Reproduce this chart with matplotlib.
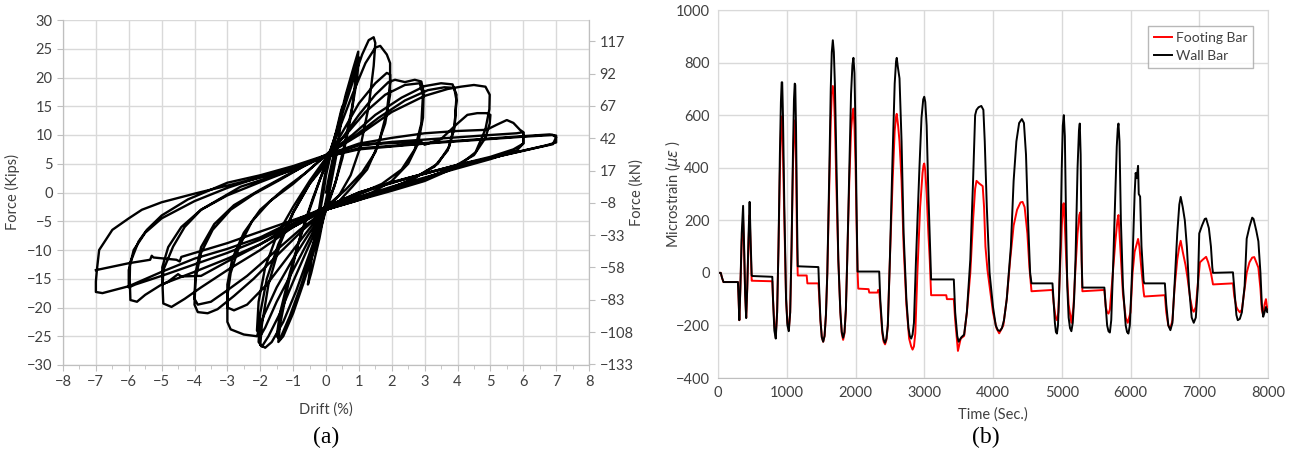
import matplotlib
matplotlib.use('Agg')
import matplotlib.pyplot as plt
import numpy as np

plt.rcParams['font.family'] = ['Lato', 'DejaVu Sans']

# (a) hysteresis: drift (%) and force (kips), one continuous path, cycle by cycle
drift = [0,
    0.1, 0.25, 0.2, 0.05, -0.1, -0.25, -0.2, -0.05, 0,
    0.2, 0.45, 0.5, 0.45, 0.3, 0.1, 0, -0.2, -0.45, -0.55, -0.45, -0.3, -0.1, 0,
    0.3, 0.6, 0.85, 0.98, 0.95, 0.8, 0.55, 0.3, 0.1, 0, -0.3, -0.7, -1.0, -1.3, -1.45, -1.4, -1.15, -0.85, -0.5, -0.2, 0,
    0.35, 0.65, 0.9, 1.0, 0.95, 0.75, 0.5, 0.25, 0, -0.35, -0.75, -1.1, -1.4, -1.5, -1.4, -1.1, -0.75, -0.4, 0,
    0.4, 0.8, 1.1, 1.3, 1.45, 1.5, 1.45, 1.3, 1.05, 0.75, 0.4, 0, -0.4, -0.9, -1.3, -1.65, -1.85, -2.0, -1.95, -1.75, -1.4, -1.0, -0.5, 0,
    0.4, 0.8, 1.2, 1.5, 1.65, 1.85, 1.95, 1.95, 1.85, 1.6, 1.25, 0.8, 0.4, 0, -0.5, -1.0, -1.4, -1.75, -1.95, -2.05, -2.0, -1.8, -1.45, -1.0, -0.5, 0,
    0.5, 1.0, 1.5, 1.85, 1.95, 1.95, 1.8, 1.5, 1.1, 0.6, 0, -0.5, -1.0, -1.5, -1.85, -2.0, -2.1, -2.05, -1.85, -1.5, -1.0, -0.5, 0,
    0.5, 1.0, 1.5, 1.9, 2.1, 2.4, 2.7, 2.9, 2.97, 2.95, 2.8, 2.5, 2.0, 1.4, 0.7, 0, -0.5, -1.0, -1.5, -1.9, -2.1, -2.5, -2.9, -3.0, -3.0, -2.9, -2.65, -2.25, -1.7, -1.0, -0.5, 0,
    0.6, 1.2, 1.8, 2.4, 2.85, 2.95, 2.9, 2.7, 2.3, 1.7, 0.9, 0, -0.6, -1.2, -1.8, -2.4, -2.8, -3.0, -3.0, -2.85, -2.5, -2.0, -1.3, -0.6, 0,
    0.8, 1.5, 2.3, 3.0, 3.5, 3.85, 3.97, 3.92, 3.75, 3.4, 2.7, 1.8, 0.9, 0, -0.7, -1.5, -2.2, -2.8, -3.3, -3.6, -3.9, -4.0, -3.97, -3.8, -3.45, -2.9, -2.2, -1.4, -0.7, 0,
    0.8, 1.6, 2.4, 3.1, 3.6, 3.9, 3.97, 3.9, 3.7, 3.3, 2.5, 1.6, 0.8, 0, -0.8, -1.6, -2.4, -3.0, -3.5, -3.9, -4.0, -3.97, -3.8, -3.4, -2.8, -2.0, -1.2, -0.6, 0,
    1, 2, 3, 3.7, 4.1, 4.5, 4.85, 4.98, 4.97, 4.85, 4.55, 4.0, 3.0, 2.0, 1.0, 0, -1, -2, -3, -3.8, -4.3, -4.7, -4.95, -4.97, -4.95, -4.65, -4.3, -3.8, -3.2, -2.6, -1.8, -1, 0,
    1, 2, 2.9, 3.0, 3.5, 4.0, 4.3, 4.6, 4.88, 5.0, 4.98, 4.85, 4.5, 3.8, 2.8, 1.8, 0.9, 0, -1, -2, -3, -3.8, -4.4, -4.5, -4.8, -4.97, -4.98, -4.8, -4.4, -3.8, -3, -2, -1, 0,
    1, 2, 3, 4, 4.88, 5.2, 5.5, 5.7, 5.9, 6.0, 6.0, 5.8, 5, 4, 3, 2, 1, 0, -1, -2, -3, -4, -5, -5.5, -5.75, -5.95, -5.97, -5.96, -5.7, -5.45, -5, -4.2, -3.5, -3, -2, -1, 0,
    1, 2, 3, 4, 5, 5.8, 6.0, 6.0, 5.7, 5, 4, 3, 2, 1, 0, -1, -2, -3, -4, -5, -5.8, -6.0, -6.0, -5.85, -5.5, -5, -4, -3, -2, -1, 0,
    1, 2, 3, 4, 5, 6, 6.8, 7.0, 7.0, 6.7, 6, 5, 4, 3, 2, 1, 0, -1, -2, -3, -4, -5, -6, -6.8, -7.0, -7.0, -6.97, -6.9, -6.5, -6, -5.6, -5, -4, -3, -2, -1, 0,
    1, 2, 3, 4, 5, 6, 6.9, 7.0, 6.9, 6.5, 5.5, 4.5, 3.5, 2.5, 1.5, 0.5, 0, -1, -2, -3, -4, -4.4, -4.45, -4.55, -5.25, -5.3, -5.35, -6, -7.0]

force = [0,
    3, 7, 5, 0, -4, -7, -4, 1, 3,
    8, 14, 15, 12, 6, 0, -2, -8, -14, -16, -12, -6, 1, 4,
    10, 17, 22, 24.5, 22, 15, 8, 2, -1.5, -3, -9, -16, -21, -25, -26, -23, -16, -9, -3, 2, 5,
    11, 17.5, 22, 23.5, 20, 13, 6, 1, -2.5, -9, -16, -21.5, -25.5, -25, -21, -14, -7, -1, 5,
    12, 19, 24, 26.5, 27, 26, 22, 15, 8, 3, -0.5, -3, -9, -17, -22.5, -26, -27, -26.5, -23, -16, -9, -3.5, 1.5, 5,
    11, 17, 22.5, 25.2, 25.5, 24, 22.5, 19, 14, 8.5, 4, 1, -1.5, -3, -9, -15.5, -21, -25, -26.8, -26, -21, -15, -9, -3.5, 1.5, 5.5,
    10.5, 15.5, 19, 20.8, 20.5, 17, 12, 7, 3.5, 0.5, -2.5, -8, -13.5, -19, -23.5, -25, -24, -19, -13, -7.5, -2.5, 2, 6,
    9.5, 13.5, 17, 19.2, 19.6, 19.2, 19.6, 19.3, 17.5, 13, 8.5, 5, 2, 0, -1.5, -3, -7, -11.5, -16.5, -21.5, -25, -24.7, -23.8, -22.5, -18, -14, -9.5, -5, -1.5, 1.5, 4, 6.5,
    10, 14, 17, 18.7, 19, 17, 12, 7.5, 4, 1.5, -0.5, -2.5, -7, -11.5, -16, -19.5, -20.5, -20, -16, -11.5, -7, -3, 0.5, 3.5, 6.5,
    10, 13.5, 16.5, 18.5, 19, 18.8, 17, 12, 8, 5, 2.5, 0.3, -1.5, -3, -6.5, -11, -15, -18, -20.3, -21, -20.8, -19.5, -15, -10.5, -6.5, -3, -0.3, 2.2, 4.5, 6.5,
    9.5, 13, 16, 17.8, 18.3, 18.2, 16, 11, 7.3, 4.5, 2, 0, -1.5, -3, -6.5, -10.5, -14.5, -17, -19, -19.5, -18.5, -14, -9.5, -5.5, -2.2, 0.5, 3, 4.8, 6.5,
    10, 14, 16.8, 18, 18.4, 18.7, 18.4, 17, 14.5, 11, 7, 4.5, 2, 0.3, -1.3, -3, -6, -10, -13.5, -16.5, -18.5, -19.9, -19.3, -16.5, -13.5, -9.4, -6, -3, -1, 1, 2.5, 4, 6.5,
    8.3, 8.6, 8.8, 8.3, 9.3, 12, 13.5, 13.8, 13.8, 13.5, 12, 9.5, 6.5, 4.2, 2, 0.3, -1.3, -3, -5.5, -9, -12, -14.5, -14.6, -14.2, -15.5, -16, -13, -9.5, -6, -3, -0.5, 1.8, 4, 6.5,
    8.5, 9.5, 10.3, 10.7, 10.9, 11.8, 12.6, 12.1, 10.9, 10.5, 8.5, 7.3, 5.8, 4.2, 2.6, 1, -0.8, -2.8, -6, -9, -11.5, -13.8, -16, -17.8, -19, -18.7, -15, -12.3, -8.5, -6.5, -4, -1.2, 0.5, 1.7, 3, 4.6, 6.5,
    8.2, 8.8, 9.2, 9.6, 10, 10.3, 10.5, 8.5, 7.5, 6.2, 4.8, 3.3, 1.8, 0, -2.5, -5.5, -8.2, -10.5, -12.5, -14.5, -16, -16.5, -13.5, -10, -7, -4.5, -1.5, 0.8, 2.7, 4.3, 6.2,
    7.7, 8.1, 8.6, 9, 9.4, 9.8, 10.1, 9.9, 8.7, 8.2, 7.3, 6, 4.8, 3.3, 1.7, 0, -2.5, -5, -7.8, -9.8, -11.5, -13.8, -16.3, -17.5, -17.3, -15.5, -13.5, -10, -6.5, -4.5, -3, -1.7, -0.2, 1.2, 2.6, 4.2, 6.2,
    7.5, 8, 8.5, 8.9, 9.3, 9.7, 10, 9.6, 8.4, 7.9, 6.6, 5.3, 4, 2.5, 0.8, -1.5, -2.8, -4.8, -6.8, -8.8, -10.5, -11.2, -12, -11.7, -11.3, -11, -11.7, -12.3, -13.5]

# (b) strain histories (time in s, microstrain)
t_wall = [0, 40, 60, 80, 290, 300, 310, 325, 345, 365, 380, 395, 410, 425, 445, 460, 475, 490, 500, 790,
    800, 820, 840, 860, 880, 900, 915, 926, 934, 945, 965, 990, 1010, 1030, 1050, 1070, 1090, 1105, 1116, 1124, 1135, 1150, 1160, 1460,
    1470, 1490, 1510, 1530, 1550, 1570, 1590, 1620, 1640, 1655, 1670, 1685, 1700, 1720, 1750, 1780, 1800, 1820, 1840, 1860, 1880, 1910, 1935, 1955, 1970, 1985, 2000, 2015, 2030, 2345,
    2360, 2390, 2410, 2430, 2450, 2470, 2500, 2540, 2570, 2590, 2600, 2615, 2640, 2670, 2700, 2740, 2770, 2790, 2810, 2830, 2850, 2880, 2930, 2960, 2985, 3000, 3015, 3035, 3060, 3090, 3100, 3430,
    3450, 3480, 3500, 3540, 3580, 3620, 3670, 3710, 3740, 3760, 3790, 3830, 3860, 3880, 3910, 3950, 4000, 4040, 4070, 4100, 4130, 4160, 4200, 4260, 4300, 4340, 4380, 4420, 4450, 4480, 4510, 4540, 4560, 4865,
    4880, 4900, 4915, 4930, 4945, 4960, 4980, 5000, 5015, 5030, 5045, 5060, 5080, 5100, 5120, 5140, 5160, 5180, 5200, 5230, 5250, 5262, 5275, 5290, 5300, 5620,
    5640, 5660, 5680, 5700, 5720, 5750, 5780, 5800, 5815, 5825, 5840, 5860, 5890, 5930, 5950, 5970, 5990, 6010, 6030, 6060, 6075, 6090, 6110, 6120, 6140, 6160, 6190, 6200, 6500,
    6520, 6550, 6580, 6610, 6640, 6680, 6710, 6730, 6760, 6790, 6820, 6850, 6890, 6920, 6950, 6980, 7000, 7040, 7080, 7100, 7140, 7170, 7190, 7200, 7490,
    7510, 7540, 7560, 7590, 7620, 7660, 7690, 7730, 7770, 7790, 7830, 7860, 7890, 7910, 7930, 7950, 7970, 7990, 8000]
s_wall = [0, 0, -20, -35, -35, -100, -180, -60, 150, 255, 100, -80, -172, -60, 150, 270, 120, -10, -12, -15,
    -100, -220, -250, -150, 100, 450, 650, 725, 725, 600, 250, -100, -200, -222, -150, 100, 450, 660, 720, 715, 550, 200, 25, 22,
    -50, -180, -245, -262, -240, -160, 0, 400, 700, 840, 885, 840, 720, 450, 50, -150, -225, -247, -225, -140, 50, 400, 680, 790, 818, 760, 550, 250, 5, 5,
    -100, -220, -255, -266, -250, -200, 50, 450, 720, 805, 818, 785, 740, 500, 150, -100, -210, -240, -250, -235, -190, 50, 400, 590, 660, 670, 650, 560, 300, 50, -25, -25,
    -150, -240, -262, -245, -235, -150, 50, 350, 600, 620, 630, 635, 620, 500, 250, 0, -130, -200, -218, -221, -210, -180, -100, 100, 350, 500, 570, 585, 570, 450, 200, 0, -40, -40,
    -100, -190, -225, -231, -200, -100, 100, 400, 560, 600, 520, 250, -50, -170, -210, -222, -190, -100, 50, 400, 540, 568, 450, 50, -56, -56,
    -130, -200, -222, -227, -180, 50, 300, 480, 550, 568, 500, 200, -50, -200, -225, -231, -200, -80, 50, 300, 380, 360, 407, 300, 290, 100, -30, -40, -40,
    -120, -200, -218, -190, -50, 150, 260, 289, 250, 200, 100, -50, -170, -190, -170, -50, 150, 180, 205, 207, 170, 100, 20, 0, 2,
    -60, -160, -180, -175, -150, -50, 130, 175, 210, 205, 160, 120, 0, -120, -167, -150, -130, -150, -140]

t_foot = [0, 40, 60, 80, 290, 300, 310, 325, 345, 365, 380, 395, 410, 425, 445, 460, 475, 490, 500, 790,
    800, 820, 840, 860, 880, 900, 915, 926, 934, 945, 965, 990, 1010, 1030, 1050, 1070, 1090, 1105, 1116, 1124, 1135, 1150, 1160, 1290, 1300, 1460,
    1470, 1490, 1510, 1530, 1550, 1570, 1590, 1620, 1640, 1655, 1670, 1685, 1700, 1720, 1750, 1780, 1800, 1820, 1840, 1860, 1880, 1910, 1935, 1955, 1970, 1985, 2000, 2015, 2030, 2040, 2190, 2200, 2320, 2330, 2345,
    2360, 2390, 2410, 2430, 2450, 2470, 2500, 2540, 2570, 2590, 2600, 2620, 2640, 2670, 2700, 2740, 2780, 2810, 2830, 2850, 2870, 2900, 2940, 2975, 2990, 3000, 3015, 3035, 3060, 3080, 3100, 3320, 3330, 3430,
    3450, 3480, 3490, 3530, 3580, 3620, 3670, 3710, 3740, 3760, 3800, 3850, 3870, 3890, 3920, 3950, 4000, 4050, 4090, 4150, 4200, 4250, 4300, 4350, 4400, 4430, 4460, 4500, 4530, 4560, 4865,
    4880, 4910, 4930, 4950, 4980, 5000, 5020, 5030, 5050, 5070, 5100, 5140, 5170, 5200, 5230, 5255, 5270, 5285, 5300, 5620,
    5640, 5660, 5680, 5700, 5750, 5780, 5810, 5825, 5840, 5860, 5890, 5930, 5960, 6000, 6030, 6060, 6090, 6110, 6130, 6160, 6190, 6200, 6500,
    6520, 6550, 6580, 6610, 6640, 6680, 6710, 6730, 6760, 6800, 6830, 6870, 6900, 6920, 6950, 6980, 7010, 7050, 7100, 7130, 7170, 7190, 7200, 7490,
    7510, 7540, 7560, 7590, 7620, 7660, 7690, 7730, 7770, 7800, 7830, 7860, 7890, 7910, 7930, 7950, 7970, 7990, 8000]
s_foot = [0, 0, -20, -35, -35, -100, -180, -60, 120, 200, 80, -80, -170, -60, 120, 220, 100, -30, -30, -32,
    -100, -200, -240, -150, 100, 380, 540, 595, 595, 450, 200, -100, -190, -215, -150, 100, 400, 530, 580, 575, 420, 100, -10, -10, -40, -40,
    -80, -180, -245, -262, -240, -160, 0, 350, 580, 680, 711, 680, 580, 350, 50, -150, -230, -255, -230, -140, 50, 350, 540, 605, 625, 560, 420, 200, 5, -60, -62, -75, -75, -65, -70,
    -120, -230, -262, -272, -255, -200, 50, 350, 540, 595, 605, 560, 500, 350, 100, -120, -250, -280, -292, -280, -230, 0, 250, 380, 410, 416, 390, 300, 150, 50, -85, -85, -100, -100,
    -180, -270, -297, -250, -240, -150, 0, 200, 320, 350, 340, 330, 250, 100, 10, -50, -150, -210, -230, -200, -100, 50, 180, 240, 268, 270, 250, 150, 20, -70, -65,
    -110, -170, -180, -150, 50, 180, 260, 265, 150, 20, -120, -190, -130, 20, 150, 220, 230, 100, -70, -65,
    -130, -150, -155, -140, 20, 120, 200, 220, 150, 50, -80, -170, -190, -150, 0, 80, 110, 129, 100, 10, -70, -90, -85,
    -150, -200, -212, -180, -60, 50, 100, 122, 80, 30, -20, -100, -140, -148, -130, -40, 40, 50, 61, 40, 0, -30, -44, -40,
    -90, -130, -140, -150, -140, -60, 0, 40, 58, 60, 40, 20, -60, -140, -160, -120, -100, -140, -130]

kn_ticks = [-133, -108, -83, -58, -33, -8, 17, 42, 67, 92, 117]

grid_c = '#d9d9d9'
txt_c = '#404040'

fig = plt.figure(figsize=(12.91, 4.54), dpi=100)

# ---- (a)
ax = fig.add_axes([63/1291, 1-365/454, 526/1291, 345/454])
ax.plot(drift, force, color='black', lw=1.7, solid_joinstyle='round')
ax.set_xlim(-8, 8)
ax.set_ylim(-30, 30)
ax.set_xticks(range(-8, 9))
ax.set_xticks(np.arange(-7.5, 8, 1), minor=True)
ax.set_yticks(range(-30, 31, 5))
ax.grid(True, color=grid_c, lw=1)
ax.set_axisbelow(True)
for s in ax.spines.values():
    s.set_color('#bfbfbf')
ax.spines['top'].set_visible(False)
ax.tick_params(colors='#bfbfbf', labelcolor=txt_c, labelsize=10.5, length=4)
ax.tick_params(which='minor', colors='#bfbfbf', length=3)
ax.set_xlabel('Drift (%)', color=txt_c, fontsize=10.5)
ax.xaxis.set_label_coords(0.5, -0.108)
ax.set_ylabel('Force (Kips)', color=txt_c, fontsize=10.5)
ax.yaxis.set_label_coords(-0.081, 0.5)

ax2 = ax.twinx()
ax2.set_ylim(-30*4.448, 30*4.448)
ax2.set_yticks(kn_ticks)
ax2.spines['top'].set_visible(False)
for s in ax2.spines.values():
    s.set_color('#bfbfbf')
ax2.tick_params(colors='#bfbfbf', labelcolor=txt_c, labelsize=10.5, length=4)
ax2.set_ylabel('Force (kN)', color=txt_c, fontsize=10.5)
ax2.yaxis.set_label_coords(1.076, 0.5)

fig.text(326/1291, 1-437/454, '(a)', family='Liberation Serif', fontsize=17, ha='center', va='center')

# ---- (b)
bx = fig.add_axes([718/1291, 1-378/454, 550/1291, 368/454])
bx.plot(t_foot, s_foot, color='#ff0000', lw=1.4, label='Footing Bar')
bx.plot(t_wall, s_wall, color='black', lw=1.4, label='Wall Bar')
bx.set_xlim(0, 8000)
bx.set_ylim(-400, 1000)
bx.set_xticks(range(0, 8001, 1000))
bx.set_yticks(range(-400, 1001, 200))
bx.grid(True, color=grid_c, lw=1)
bx.set_axisbelow(True)
for s in bx.spines.values():
    s.set_color(grid_c)
bx.spines['bottom'].set_color('#bfbfbf')
bx.tick_params(length=0, labelcolor=txt_c, labelsize=10.5, pad=6)
bx.set_xlabel('Time (Sec.)', color=txt_c, fontsize=10.5)
bx.xaxis.set_label_coords(0.5, -0.08)
bx.set_ylabel(r'Microstrain ($\mu\varepsilon$ )', color=txt_c, fontsize=10.5)
bx.yaxis.set_label_coords(-0.063, 0.5)
leg = bx.legend(loc='upper right', fancybox=False, edgecolor='#a6a6a6', fontsize=10,
                handlelength=1.3, handletextpad=0.3, borderpad=0.4, labelspacing=0.45,
                bbox_to_anchor=(0.985, 0.975))
leg.get_frame().set_linewidth(1)
for t in leg.get_texts():
    t.set_color(txt_c)

fig.text(986/1291, 1-437/454, '(b)', family='Liberation Serif', fontsize=17, ha='center', va='center')

fig.savefig('out.png', dpi=100)
